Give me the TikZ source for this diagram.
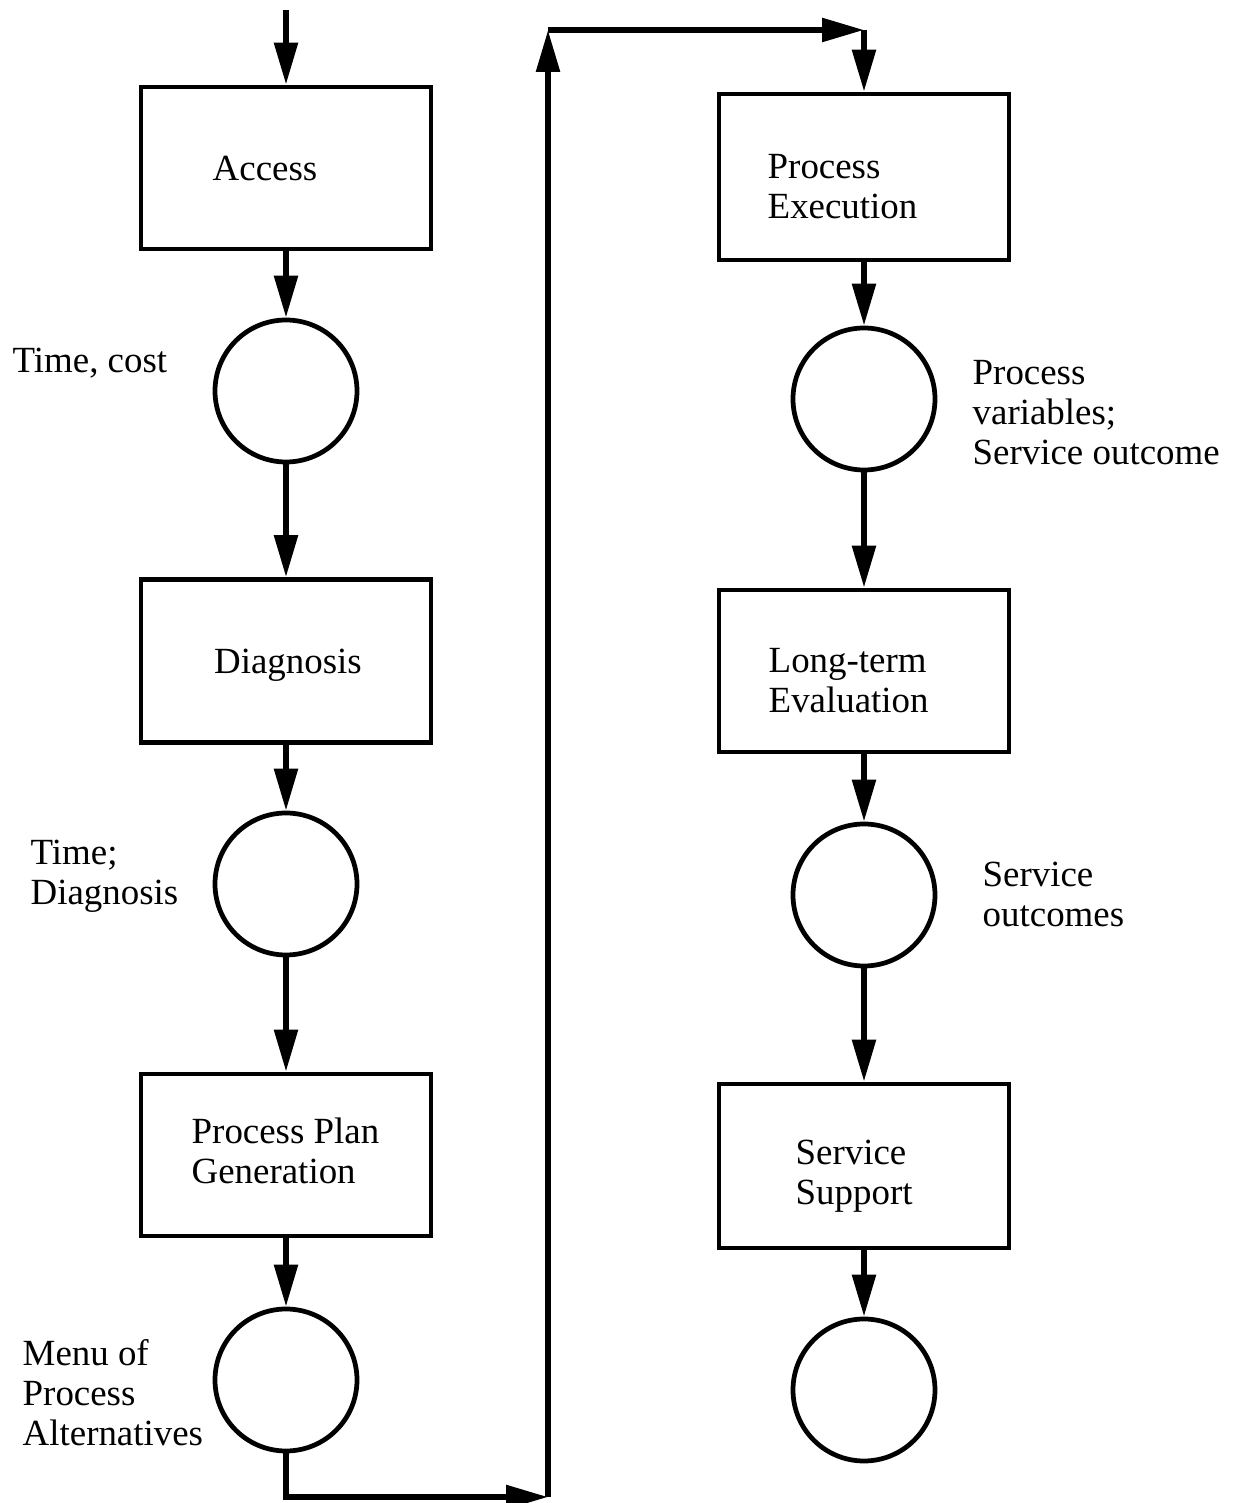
\documentclass[tikz,border=0pt]{standalone}
\usepackage{fontspec}
\setmainfont{Liberation Serif}
\usepackage{tikz}
\usetikzlibrary{arrows.meta}
\usetikzlibrary{calc}

\tikzset{
	stagebox/.style={rectangle, draw=black, line width=1.35pt, minimum width=2.90cm, minimum height=1.62cm},
	datacirc/.style={circle, draw=black, line width=1.35pt, minimum size=1.42cm, inner sep=0pt},
	lbl/.style={align=left, inner sep=0pt, font=\fontsize{10.5}{11.4}\selectfont},
}

\begin{document}
\begin{tikzpicture}

\useasboundingbox (0,0) rectangle (12.35,15.03);

%% left column
\node at (2.86,13.35) [stagebox] (access) {};
\node at (2.65,13.34) [lbl] (accesstxt) {Access};

\node at (2.86,11.12) [datacirc] (c1) {};
\node at (0.12,11.40) [lbl, anchor=west] (c1txt) {Time, cost};

\node at (2.86,8.42) [stagebox, minimum height=1.63cm] (diag) {};
\node at (2.88,8.38) [lbl] (diagtxt) {Diagnosis};

\node at (2.86,6.19) [datacirc] (c2) {};
\node at (0.30,6.27) [lbl, anchor=west] (c2txt) {Time;\\Diagnosis};

\node at (2.86,3.48) [stagebox] (plan) {};
\node at (1.91,3.52) [lbl, anchor=west] (plantxt) {Process Plan\\Generation};

\node at (2.86,1.23) [datacirc] (c3) {};
\node at (0.22,1.10) [lbl, anchor=west] (c3txt) {Menu of\\Process\\Alternatives};

%% right column
\node at (8.64,13.26) [stagebox, minimum height=1.66cm] (exec) {};
\node at (7.67,13.16) [lbl, anchor=west] (exectxt) {Process\\Execution};

\node at (8.64,11.04) [datacirc] (c4) {};
\node at (9.72,10.90) [lbl, anchor=west] (c4txt) {Process\\variables;\\Service outcome};

\node at (8.64,8.32) [stagebox] (eval) {};
\node at (7.68,8.22) [lbl, anchor=west] (evaltxt) {Long-term\\Evaluation};

\node at (8.64,6.08) [datacirc] (c5) {};
\node at (9.82,6.09) [lbl, anchor=west] (c5txt) {Service\\outcomes};

\node at (8.64,3.37) [stagebox, minimum height=1.64cm] (supp) {};
\node at (7.95,3.27) [lbl, anchor=west] (supptxt) {Service\\Support};

\node at (8.64,1.13) [datacirc] (c6) {};

%% loop corners
\coordinate (start) at (2.86,14.93);
\coordinate (bl) at (5.48,0.06);
\coordinate (tl) at (5.48,14.73);
\coordinate (tr) at (8.64,14.73);

\begin{scope}[>={Triangle[length=0.42cm, width=0.23cm]}, line width=1.6pt]
	\draw [->] (start) -- (access.north);
	\draw [->] (access.south) -- (c1.north);
	\draw [->] (c1.south) -- (diag.north);
	\draw [->] (diag.south) -- (c2.north);
	\draw [->] (c2.south) -- (plan.north);
	\draw [->] (plan.south) -- (c3.north);
	\draw [->] (c3.south) |- (bl);
	\draw [->] (bl) -- (tl);
	\draw [->] (tl) -- (tr);
	\draw [->] (tr) -- (exec.north);
	\draw [->] (exec.south) -- (c4.north);
	\draw [->] (c4.south) -- (eval.north);
	\draw [->] (eval.south) -- (c5.north);
	\draw [->] (c5.south) -- (supp.north);
	\draw [->] (supp.south) -- (c6.north);
\end{scope}

\end{tikzpicture}
\end{document}
